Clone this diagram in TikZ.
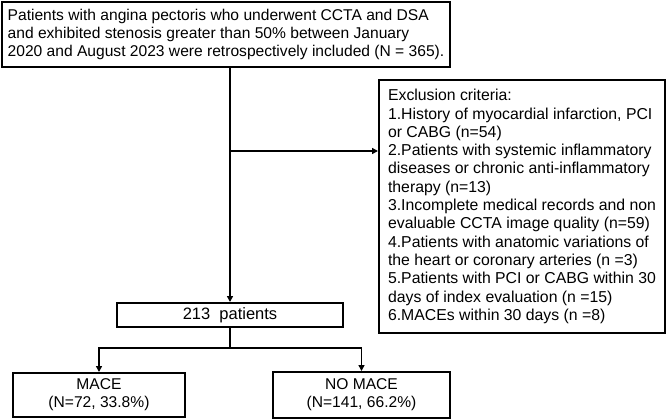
\documentclass[tikz,border=0pt]{standalone}
\usepackage{fontspec}
\setmainfont{Liberation Sans}
\usetikzlibrary{arrows.meta}

\begin{document}
\begin{tikzpicture}[x=1pt,y=-1pt,
  box/.style={draw=black, line width=2pt, inner sep=0pt, font=\fontsize{15.6}{18.3}\selectfont},
  link/.style={line width=1.6pt, -{Triangle[length=6pt,width=6pt]}},
  plain/.style={line width=1.6pt}]

\useasboundingbox (0,0) rectangle (669,420);

% enrolled patients
\node[box, font=\fontsize{15.6}{18.3}\selectfont, minimum width=448, minimum height=65,
      align=left] (enrol) at (226,34.5)
  {Patients with angina pectoris who underwent CCTA and DSA\\
   and exhibited stenosis greater than 50\% between January\\
   2020 and August 2023 were retrospectively included (N = 365).};

% exclusions
\node[box, font=\fontsize{15.8}{18.3}\selectfont, minimum width=286, minimum height=253,
      align=left] (excl) at (522,206.5)
  {Exclusion criteria:\\
   1.History of myocardial infarction, PCI\\
   or CABG (n=54)\\
   2.Patients with systemic inflammatory\\
   diseases or chronic anti-inflammatory\\
   therapy (n=13)\\
   3.Incomplete medical records and non\\
   evaluable CCTA image quality (n=59)\\
   4.Patients with anatomic variations of\\
   the heart or coronary arteries (n =3)\\
   5.Patients with PCI or CABG within 30\\
   days of index evaluation (n =15)\\
   6.MACEs within 30 days (n =8)};

% final cohort and outcome groups
\node[box, font=\fontsize{16.5}{18.3}\selectfont, minimum width=226, minimum height=24] (total) at (230,315)
  {213\ \ patients};
\node[box, minimum width=172, minimum height=44, align=center] (mace) at (99,395)
  {MACE\\(N=72, 33.8\%)};
\node[box, minimum width=177, minimum height=46, align=center] (nomace) at (361.5,395)
  {NO MACE\\(N=141, 66.2\%)};

\coordinate (split) at (230,151);
\draw[link] (enrol.south -| total.north) -- (total.north);
\draw[link] (split) -- (split -| excl.west);

\draw[plain] (total.south) -- ++(0,20) coordinate (fork);
\draw[link] (fork) -| (mace.north);
\draw[link] (fork) -| (nomace.north);

\end{tikzpicture}
\end{document}
